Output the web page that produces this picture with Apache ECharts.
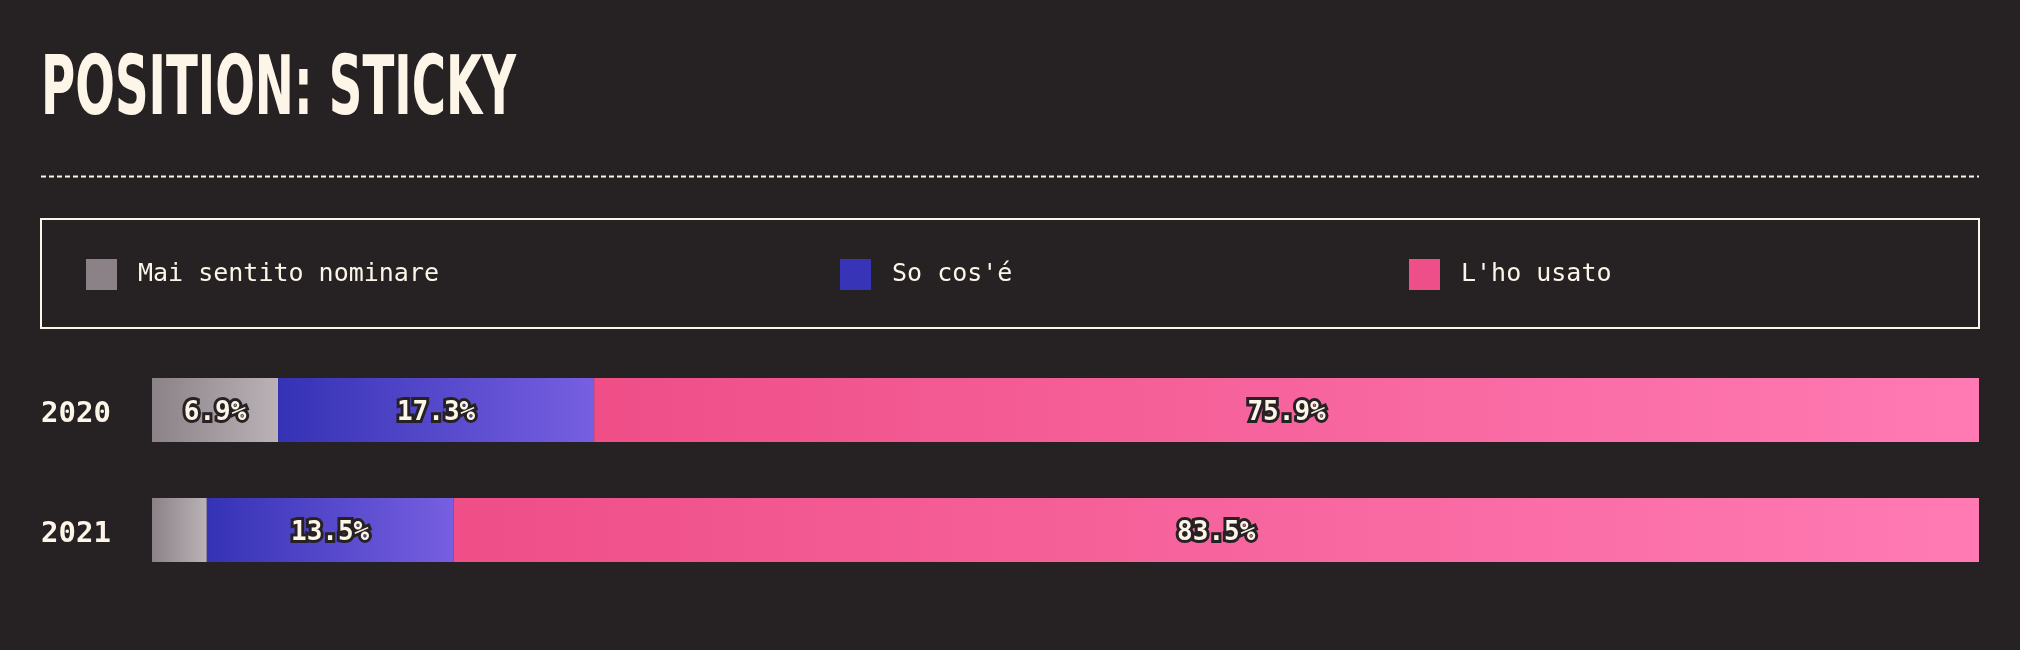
<!DOCTYPE html>
<html><head><meta charset="utf-8">
<script src="https://cdn.jsdelivr.net/npm/echarts@6/dist/echarts.min.js"></script>
<style>html,body{margin:0;padding:0;background:#262224}#c{width:2020px;height:650px}</style>
</head><body><div id="c"></div>
<script>
const titleText = 'POSITION: STICKY';
const years = ['2020', '2021'];
const seriesNames = ['Mai sentito nominare', "So cos'é", "L'ho usato"];
const maiSentito = [6.9, 3.0];
const soCos = [17.3, 13.5];
const lhoUsato = [75.9, 83.5];

const cream = '#fdf6e8';
const bg = '#262224';
const solidColors = ['#8b8287', '#3834b7', '#ef4f88'];
const gradStops = [['#8b8287', '#bab2b6'], ['#3532b5', '#775fe1'], ['#ef4e87', '#ff7ab3']];

const mono = '"DejaVu Sans Mono", "Liberation Mono", monospace';
const titleFont = '"Liberation Sans Narrow", "DejaVu Sans Condensed", "Liberation Sans", sans-serif';

const cv = document.createElement('canvas').getContext('2d');
cv.font = 'bold 82px ' + titleFont;
const tw = cv.measureText(titleText).width;
const titleScale = 475 / tw;

const chart = echarts.init(document.getElementById('c'), null, {renderer: 'canvas'});

function grad(i) {
  return new echarts.graphic.LinearGradient(0, 0, 1, 0, [
    {offset: 0, color: gradStops[i][0]}, {offset: 1, color: gradStops[i][1]}
  ]);
}
const allData = [maiSentito, soCos, lhoUsato];
const legendLefts = [86, 840, 1409];

const option = {
  backgroundColor: bg,
  animation: false,
  grid: {left: 152, right: 41, top: 350, height: 240},
  xAxis: {type: 'value', min: 0, max: 100, show: false},
  yAxis: {
    type: 'category', data: years, inverse: true,
    axisLine: {show: false}, axisTick: {show: false},
    axisLabel: {
      align: 'left', margin: 111,
      formatter: v => '{y|' + v + '}',
      rich: {y: {color: cream, fontFamily: mono, fontWeight: 'bold', fontSize: 29, padding: [8, 0, 0, 0]}}
    }
  },
  legend: seriesNames.map((n, i) => ({
    left: legendLefts[i], top: 259, orient: 'horizontal', padding: 0,
    icon: 'rect', itemWidth: 31, itemHeight: 31,
    selectedMode: false,
    data: [{name: n, itemStyle: {color: solidColors[i]}}],
    textStyle: {color: cream, fontFamily: mono, fontSize: 25, padding: [0, 0, 0, 16]}
  })),
  series: seriesNames.map((n, i) => ({
    name: n, type: 'bar', stack: 'total', barWidth: 64,
    data: allData[i],
    itemStyle: {color: grad(i)},
    label: {
      show: true, position: 'inside', offset: [0, 3],
      formatter: p => p.value > 5 ? p.value.toFixed(1) + '%' : '',
      color: cream, fontFamily: mono, fontWeight: 'bold', fontSize: 26,
      textBorderColor: bg, textBorderWidth: 6
    }
  })),
  graphic: [
    {type: 'text', left: 41, top: 52, scaleX: titleScale,
     style: {text: titleText, fill: cream, font: 'bold 82px ' + titleFont}},
    {type: 'line', shape: {x1: 41, y1: 176.5, x2: 1979, y2: 176.5},
     style: {stroke: cream, lineWidth: 2, lineDash: [5, 3]}},
    {type: 'rect', shape: {x: 41, y: 219, width: 1938, height: 109},
     style: {fill: 'none', stroke: cream, lineWidth: 2}}
  ]
};
chart.setOption(option);
</script></body></html>
